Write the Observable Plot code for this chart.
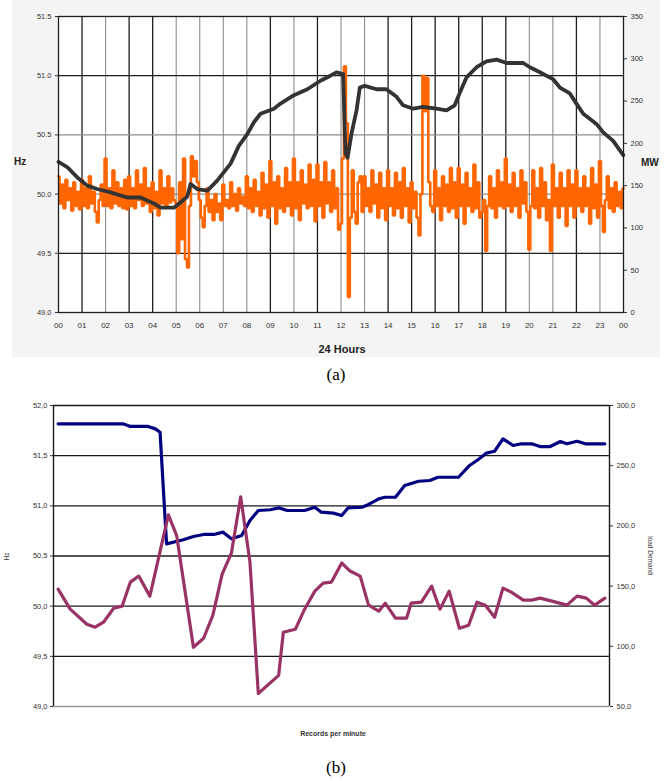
<!DOCTYPE html>
<html><head><meta charset="utf-8">
<script src="https://cdn.jsdelivr.net/npm/d3@7"></script>
<script src="https://cdn.jsdelivr.net/npm/@observablehq/plot@0.6"></script>
<style>
body{margin:0;background:#fff;width:672px;height:781px;position:relative;overflow:hidden;font-family:Arial,"Liberation Sans",sans-serif}
.abs{position:absolute}
.cap{font-family:"Liberation Serif","Times New Roman",serif;font-size:17px;line-height:20px;text-align:center;width:672px;left:0;color:#000}
</style></head><body>
<div class="abs" style="left:12px;top:0;width:648px;height:357px;background:#f4f4f4"></div>
<div id="a" class="abs" style="left:0;top:0"></div>
<div class="abs" style="left:14px;top:156px;font-size:10px;font-weight:bold;color:#222">Hz</div>
<div class="abs" style="left:641px;top:157px;font-size:10px;font-weight:bold;color:#222">MW</div>
<div class="abs" style="left:0;top:343px;width:684px;text-align:center;font-size:11px;font-weight:bold;color:#222">24 Hours</div>
<div class="abs cap" style="top:365px">(a)</div>
<div id="b" class="abs" style="left:0;top:390px"></div>
<div class="abs" style="left:3px;top:553px;font-size:6.5px;color:#333;transform:rotate(-90deg);transform-origin:center">Hz</div>
<div class="abs" style="left:620px;top:552px;width:60px;text-align:center;font-size:6.5px;color:#333;transform:rotate(90deg);transform-origin:center">load Demand</div>
<div class="abs" style="left:0;top:730px;width:666px;text-align:center;font-size:7px;font-weight:bold;color:#333">Records per minute</div>
<div class="abs cap" style="top:758px">(b)</div>
<script>
// ---------- Panel (a): 24 hours ----------
const hourTicks = [0,1,2,3,4,5,6,7,8,9,10,11,12,13,14,15,16,17,18,19,20,21,22,23,24];
const hzTicksA = [49.0, 49.5, 50.0, 50.5, 51.0, 51.5];
const mwTicksA = [0, 50, 100, 150, 200, 250, 300, 350];
// load (MW), right axis
const loadHoursA = [0,0.37,0.79,1.22,1.64,2.21,2.92,3.48,4.05,4.33,4.9,5.18,5.47,5.61,5.89,6.32,6.74,7.31,7.66,8.02,8.3,8.58,9.15,9.43,10.0,10.57,11.13,11.55,11.81,12.09,12.19,12.28,12.45,12.66,12.8,13.01,13.51,13.93,14.36,14.64,15.07,15.49,16.06,16.48,16.83,17.05,17.33,17.76,18.18,18.61,19.03,19.74,20.02,20.45,21.0,21.3,21.72,22.0,22.29,22.85,23.14,23.56,23.99];
const loadMWA = [178,172,160,150,146,142,136,136,129,124,124,130,137,152,146,144,156,176,197,211,225,235,241,247,257,264,274,280,284,282,188,183,212,239,266,268,264,264,255,245,241,243,241,239,245,260,278,290,297,299,295,295,290,284,276,266,259,247,235,223,213,203,186];
// frequency (Hz), left axis, one reading every 5 minutes
const freqStepA = 1 / 12;
const freqHzA = [
  50.15,49.92,50.08,49.88,50.12,49.95,50.05,49.86,50.10,49.90,50.02,49.87,
  50.12,49.90,50.05,49.88,50.15,49.92,50.02,49.85,49.76,49.95,50.08,49.90,
  50.30,49.90,50.05,49.88,50.20,49.92,50.10,49.90,50.05,49.88,50.12,49.87,
  50.15,49.90,50.05,49.88,50.20,49.95,50.08,49.90,50.22,49.92,50.05,49.85,
  50.10,49.88,50.02,49.82,50.20,49.92,50.05,49.90,50.15,49.93,50.05,49.95,
  49.92,49.50,50.10,49.62,50.30,49.45,49.38,49.90,50.32,50.15,50.28,50.10,
  49.95,49.80,49.72,49.90,50.05,49.85,49.95,49.78,50.00,49.85,49.92,49.78,
  50.08,49.90,49.95,49.88,50.10,49.90,50.00,49.86,50.05,49.92,49.98,49.90,
  50.15,49.88,50.05,49.85,50.12,49.90,50.02,49.82,50.18,49.88,50.08,49.80,
  50.28,49.90,50.10,49.75,50.15,49.88,50.05,49.85,50.22,49.90,50.10,49.82,
  50.30,49.88,50.10,49.78,50.20,49.92,50.08,49.88,50.25,49.90,50.12,49.77,
  50.25,49.90,50.10,49.80,50.27,49.92,50.10,49.85,50.20,49.88,50.05,49.70,
  49.75,50.30,51.08,50.60,49.13,49.80,50.20,49.85,49.75,50.10,50.15,49.85,
  50.15,49.90,50.05,49.85,50.20,49.92,50.08,49.80,50.18,49.88,50.05,49.78,
  50.20,49.90,50.05,49.82,50.18,49.88,50.10,49.80,50.22,49.90,50.05,49.76,
  50.10,49.88,50.02,49.80,49.65,50.00,51.00,50.70,50.98,50.10,49.90,49.85,
  50.20,49.90,50.05,49.78,50.15,49.90,50.08,49.85,50.22,49.88,50.10,49.80,
  50.22,49.90,50.08,49.75,50.18,49.90,50.05,49.85,50.25,49.88,50.10,49.80,
  49.85,49.95,49.52,49.90,50.15,49.88,50.05,49.80,50.20,49.90,50.10,49.88,
  50.30,49.90,50.08,49.85,50.18,49.90,50.05,49.80,50.20,49.92,50.10,49.85,
  49.53,49.90,50.20,49.88,50.05,49.80,50.22,49.90,50.10,49.78,49.95,49.52,
  50.25,49.90,50.05,49.80,50.18,49.90,50.05,49.73,50.20,49.90,50.08,49.80,
  50.20,49.90,50.05,49.85,50.15,49.90,50.05,49.75,50.22,49.88,50.08,49.80,
  50.28,49.90,49.68,49.95,50.15,49.88,50.05,49.85,50.10,49.90,50.02,49.88,
  50.05];

// ---------- Panel (b): records per minute ----------
const hzTicksB = [49.0, 49.5, 50.0, 50.5, 51.0, 51.5, 52.0];
const loadTicksB = [50, 100, 150, 200, 250, 300];
const hzMinB = [0,1.3,3.1,4.0,4.9,6.0,6.9,7.8,8.7,9.9,11.9,12.8,14.6,15.7,16.7,17.7,18.7,19.7,20.7,21.6,23.8,24.3,25.6,26.6,27.7,28.6,29.5,30.6,31.5,32.6,33.5,34.6,35.3,36.4,37.6,38.1,39.2,40.3,41.2,42.2,43.3,44.3,45.2,46.1,47.1,48.0,48.9,50.2,51.1,52.0,53.3,54.9,56.0,57.0,57.9,59.0];
const hzB = [50.17,49.97,49.82,49.79,49.84,49.98,50.0,50.24,50.30,50.10,50.91,50.70,49.59,49.68,49.91,50.32,50.53,51.09,50.44,49.13,49.31,49.74,49.77,49.97,50.15,50.23,50.24,50.43,50.35,50.30,50.01,49.95,50.03,49.88,49.88,50.03,50.04,50.20,49.97,50.15,49.78,49.81,50.04,50.01,49.89,50.18,50.14,50.06,50.06,50.08,50.05,50.01,50.10,50.08,50.01,50.08];
const loadMinB = [0,7.0,7.8,9.7,10.5,11.0,11.7,13.5,14.6,15.7,16.8,17.8,18.7,19.8,20.7,21.6,22.9,23.8,24.7,26.6,27.7,28.4,29.7,30.6,31.3,32.8,33.5,34.6,35.3,36.4,37.4,38.9,40.1,41.0,43.2,44.4,45.3,46.2,47.1,48.0,49.1,50.0,51.1,52.0,53.1,54.2,54.9,56.0,56.9,59.0];
const loadB = [284.8,284.8,282.6,282.6,280.6,277.8,185.1,188.5,191.2,192.9,192.9,194.8,189.3,192.0,204.5,212.8,213.4,215.0,212.8,212.8,215.5,211.4,210.6,208.6,215.0,215.5,217.8,222.5,223.8,223.8,233.6,237.1,237.7,240.4,240.4,250.2,254.9,260.4,262.0,272.3,266.8,268.2,268.2,265.9,265.9,270.1,268.2,270.3,268.2,268.2];

const FONT = "Arial, 'Liberation Sans', sans-serif";

// ---- build panel (a) ----
const toHzA = mw => 49 + mw / 350 * 2.5;
const freqA = freqHzA.map((v, i) => ({h: i * freqStepA, v}));
const loadA = loadHoursA.map((h, i) => ({h, v: toHzA(loadMWA[i])}));
const darkHours = [1,3,4,9,11,14,15,16,17,18,19,22];
const inner = hourTicks.filter(h => h > 0 && h < 24);

const plotA = Plot.plot({
  width: 672, height: 360,
  marginLeft: 58, marginRight: 49, marginTop: 16, marginBottom: 48,
  x: {domain: [0, 24]},
  y: {domain: [49, 51.5]},
  style: {background: "transparent", fontFamily: FONT, color: "#333"},
  marks: [
    Plot.frame({fill: "white", stroke: null}),
    Plot.ruleX(inner.filter(h => !darkHours.includes(h)), {stroke: "#8c8c8c", strokeWidth: 1.1}),
    Plot.ruleX(inner.filter(h => darkHours.includes(h)), {stroke: "#1e1e1e", strokeWidth: 1.3}),
    Plot.ruleY([50.0, 50.5], {stroke: "#8c8c8c", strokeWidth: 1.1}),
    Plot.ruleY([49.5, 51.0], {stroke: "#1e1e1e", strokeWidth: 1.3}),
    Plot.line(freqA, {x: "h", y: "v", stroke: "#ff6600", strokeWidth: 2.6, curve: "step", strokeLinejoin: "miter"}),
    Plot.line(loadA, {x: "h", y: "v", stroke: "#333333", strokeWidth: 3.8}),
    Plot.frame({stroke: "#1e1e1e", strokeWidth: 1.3}),
    Plot.axisY(hzTicksA, {anchor: "left", tickSize: 3, tickPadding: 4, fontSize: 7.5, tickFormat: d3.format(".1f"), label: null}),
    Plot.axisY(mwTicksA.map(toHzA), {anchor: "right", tickSize: 3, tickPadding: 4, fontSize: 7.5, tickFormat: d => String(Math.round((d - 49) / 2.5 * 350)), label: null}),
    Plot.axisX(hourTicks, {tickSize: 0, tickPadding: 10, fontSize: 8, tickFormat: d => String(d % 24).padStart(2, "0"), label: null})
  ]
});
document.getElementById("a").appendChild(plotA);

// ---- build panel (b) ----
const toHzB = mw => 49 + (mw - 50) / 250 * 3;
const hzDataB = hzMinB.map((m, i) => ({m, v: hzB[i]}));
const loadDataB = loadMinB.map((m, i) => ({m, v: toHzB(loadB[i])}));
const commaFmt = f => v => f(v).replace(".", ",");

const plotB = Plot.plot({
  width: 672, height: 360,
  marginLeft: 53, marginRight: 63, marginTop: 15, marginBottom: 44,
  x: {domain: [-0.5, 59.5]},
  y: {domain: [49, 52]},
  style: {background: "transparent", fontFamily: FONT, color: "#333"},
  marks: [
    Plot.ruleY(hzTicksB.filter(v => v > 49), {stroke: "#1a1a1a", strokeWidth: 1.4}),
    Plot.ruleY([49], {stroke: "#9a9a9a", strokeWidth: 1.6}),
    Plot.ruleX([-0.5, 59.5], {stroke: "#1a1a1a", strokeWidth: 1.4}),
    Plot.line(loadDataB, {x: "m", y: "v", stroke: "#000080", strokeWidth: 3.2}),
    Plot.line(hzDataB, {x: "m", y: "v", stroke: "#993366", strokeWidth: 3.2}),
    Plot.axisY(hzTicksB, {anchor: "left", tickSize: 3, tickPadding: 3, fontSize: 7.5, tickFormat: commaFmt(d3.format(".1f")), label: null}),
    Plot.axisY(loadTicksB.map(toHzB), {anchor: "right", tickSize: 3, tickPadding: 4, fontSize: 7.5, tickFormat: d => commaFmt(d3.format(".1f"))(Math.round((d - 49) / 3 * 250 + 50)), label: null}),
    Plot.axisX({ticks: [], label: null})
  ]
});
document.getElementById("b").appendChild(plotB);
</script>
</body></html>
